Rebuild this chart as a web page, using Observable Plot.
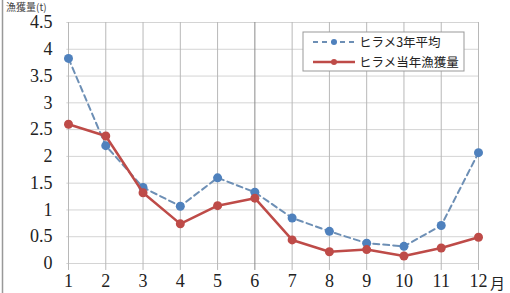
<!DOCTYPE html>
<html><head><meta charset="utf-8">
<script src="https://cdn.jsdelivr.net/npm/d3@7"></script>
<script src="https://cdn.jsdelivr.net/npm/@observablehq/plot@0.6"></script>
<style>
body{margin:0;background:#fff;}
#chart{position:relative;width:510px;height:293px;overflow:hidden;}
</style>
</head><body><div id="chart"></div>
<script>
const months = [1,2,3,4,5,6,7,8,9,10,11,12];
const avg3 = [3.83,2.2,1.42,1.07,1.6,1.33,0.85,0.6,0.38,0.32,0.71,2.07];
const thisYear = [2.6,2.38,1.32,0.74,1.08,1.22,0.44,0.22,0.26,0.14,0.29,0.49];
const yTicks = [0,0.5,1,1.5,2,2.5,3,3.5,4,4.5];
const seriesNames = ["ヒラメ3年平均","ヒラメ当年漁獲量"];
const yLabel = "漁獲量(t)";

const serif = "'Liberation Serif', 'DejaVu Serif', serif";
const cjk = "'Noto Sans CJK JP', sans-serif";
const blue = "#4f81bd", blueLine = "#6d8fb5", red = "#be4b48";
const dA = months.map((m,i)=>({m, v: avg3[i]}));
const dT = months.map((m,i)=>({m, v: thisYear[i]}));

const plot = Plot.plot({
  width: 510, height: 293,
  marginLeft: 68, marginRight: 32, marginTop: 22, marginBottom: 30,
  style: {background: "transparent"},
  x: {domain: [1,12], ticks: months, label: null},
  y: {domain: [0,4.5], ticks: yTicks, label: null},
  marks: [
    Plot.gridY(yTicks, {stroke: "#d4d4d4", strokeOpacity: 1, x1: 0.955, x2: 12}),
    Plot.ruleX(months, {x: d=>d, y1: -0.13, y2: 4.5, stroke: d => d===6 ? "#8a8a8a" : "#b8b8b8", strokeWidth: 1}),
    Plot.axisY(yTicks, {tickSize: 0, tickPadding: 16, fontSize: 18, fill: "#222", label: null, tickFormat: d=>String(d)}),
    Plot.axisX(months, {tickSize: 0, tickPadding: 11, fontSize: 18, fill: "#222", label: null}),
    Plot.line(dA, {x: "m", y: "v", stroke: blueLine, strokeWidth: 2, strokeDasharray: "6,4"}),
    Plot.dot(dA, {x: "m", y: "v", r: 4.5, fill: blue, stroke: "none"}),
    Plot.line(dT, {x: "m", y: "v", stroke: red, strokeWidth: 2.5}),
    Plot.dot(dT, {x: "m", y: "v", r: 4.5, fill: red, stroke: "none"})
  ]
});
document.getElementById("chart").appendChild(plot);

const svg = d3.select(plot);
svg.selectAll("text").style("font-family", serif);
svg.append("text").attr("x",490).attr("y",289).attr("font-size",15).attr("fill","#222").attr("text-anchor","start")
  .style("font-family",cjk).text("月");
svg.append("line").attr("x1",2.5).attr("x2",2.5).attr("y1",0).attr("y2",293).attr("stroke","#999").attr("stroke-width",1.5);
svg.append("text").attr("x",6).attr("y",11).attr("font-size",10).attr("fill","#444").attr("text-anchor","start")
  .style("font-family",cjk).text(yLabel);

const lg = svg.append("g").attr("transform","translate(303,32)");
lg.append("rect").attr("width",161).attr("height",39).attr("fill","#fff").attr("stroke","#999").attr("stroke-width",1);
const rows = [{c: blueLine, dc: blue, dash: "5,4", w: 2}, {c: red, dc: red, dash: null, w: 2.5}];
rows.forEach((r,i)=>{
  const y = 10 + i*20;
  const l = lg.append("line").attr("x1",10).attr("x2",52).attr("y1",y).attr("y2",y).attr("stroke",r.c).attr("stroke-width",r.w);
  if (r.dash) l.attr("stroke-dasharray", r.dash);
  lg.append("circle").attr("cx",31).attr("cy",y).attr("r",3).attr("fill",r.dc);
  lg.append("text").attr("x",56).attr("y",y).attr("dy","0.36em").attr("font-size",12.5).attr("fill","#222")
    .attr("text-anchor","start").style("font-family",cjk).text(seriesNames[i]);
});
</script></body></html>
